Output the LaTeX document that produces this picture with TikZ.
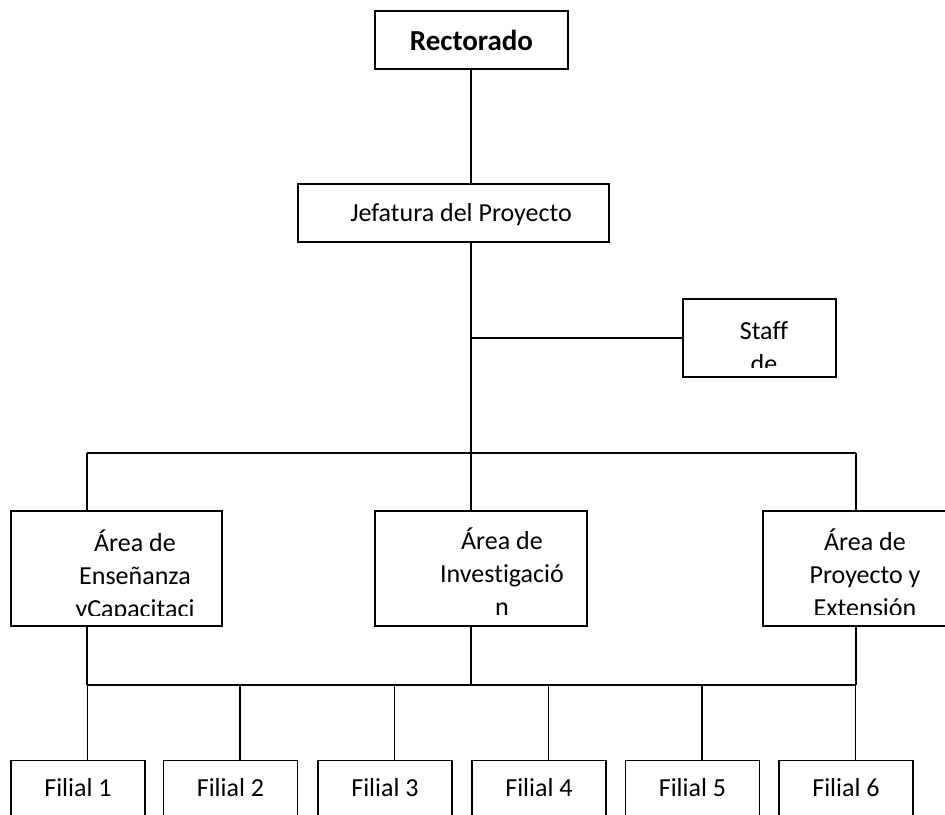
\documentclass[tikz,border=0pt]{standalone}
\usepackage{fontspec}
\setmainfont{Carlito}[Ligatures={NoCommon}]
\begin{document}
\begin{tikzpicture}[x=1pt,y=-1pt,
  box/.style={draw, line width=1.2pt, rectangle, inner sep=0pt},
  conn/.style={line width=1.2pt},
  txt/.style={inner sep=0pt, align=center, font=\fontsize{26}{33}\selectfont}]
\useasboundingbox (0,0) rectangle (945,814);
\clip (0,0) rectangle (945,814);

% Rectorado
\node[box, minimum width=193pt, minimum height=58pt] (rect) at (471.5,40) {};
\node[txt, font=\bfseries\fontsize{29}{33}\selectfont, anchor=base] (rectT) at (471.5,50) {Rectorado};

% Jefatura
\node[box, minimum width=311pt, minimum height=58pt] (jef) at (453.5,213) {};
\node[txt, anchor=base] (jefT) at (461,221) {Jefatura del Proyecto};

% Staff (base anchor = last line baseline); text area clipped inside the box
\node[box, minimum width=153pt, minimum height=78pt] (staff) at (759.5,338) {};
\begin{scope}
\clip ([yshift=10pt]staff.south west) rectangle (staff.north east);
\node[txt, anchor=base] (staffT) at (764,372) {Staff\\de};
\end{scope}

% Areas
\node[box, minimum width=211pt, minimum height=115pt] (a1) at (116.5,568.5) {};
\node[box, minimum width=212pt, minimum height=115pt] (a2) at (481,568.5) {};
\node[box, minimum width=211pt, minimum height=115pt] (a3) at (868.5,568.5) {};
\begin{scope}
\clip ([yshift=11pt]a1.south west) rectangle (a1.north east);
\node[txt, anchor=base] (a1T) at (135,617) {Área de\\Enseñanza\\yCapacitaci};
\end{scope}
\begin{scope}
\clip ([yshift=9pt]a2.south west) rectangle (a2.north east);
\node[txt, anchor=base] (a2T) at (502,615) {Área de\\Investigació\\n};
\end{scope}
\begin{scope}
\clip ([yshift=12pt]a3.south west) rectangle (a3.north east);
\node[txt, anchor=base] (a3T) at (865,616) {Área de\\Proyecto y\\Extensión};
\end{scope}

% Filiales
\foreach \i/\cx in {1/78, 2/230.5, 3/385, 4/539, 5/692.5, 6/846} {
  \node[box, minimum width=134pt, minimum height=80pt, anchor=north] (f\i) at (\cx,760) {};
  \node[txt, anchor=base] (f\i T) at (\cx,796) {Filial \i};
}

% connectors
\coordinate (sj) at (471,338);
\coordinate (tb1) at (87,453);
\coordinate (tb2) at (471,453);
\coordinate (tb3) at (856,453);
\coordinate (lb1) at (87,685);
\coordinate (lb2) at (471,685);
\coordinate (lb3) at (856,685);

\draw[conn] (rect.south -| tb2) -- (jef.north -| tb2);
\draw[conn] (jef.south -| tb2) -- (tb2);
\draw[conn] (sj) -- (staff.west);
\draw[conn] (tb1) -- (tb3);
\draw[conn] (tb1) -- (tb1 |- a1.north);
\draw[conn] (tb2) -- (tb2 |- a2.north);
\draw[conn] (tb3) -- (tb3 |- a3.north);
\draw[conn] (lb1 |- a1.south) -- (lb1);
\draw[conn] (lb2 |- a2.south) -- (lb2);
\draw[conn] (lb3 |- a3.south) -- (lb3);
\draw[conn] (lb1) -- (lb3);
\foreach \i in {1,...,6} {
  \draw[conn] ([xshift=9.5pt]f\i.north) -- ([xshift=9.5pt]f\i.north |- lb1);
}
\end{tikzpicture}
\end{document}
